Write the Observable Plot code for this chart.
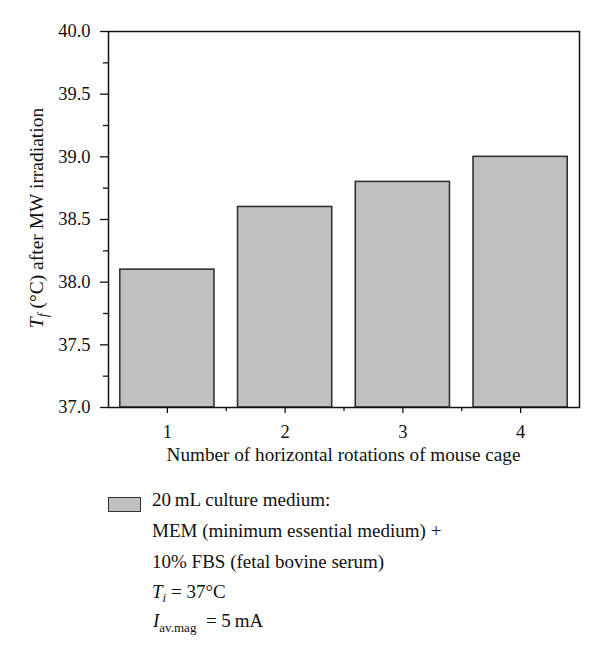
<!DOCTYPE html>
<html><head><meta charset="utf-8">
<script src="https://cdn.jsdelivr.net/npm/d3@7"></script>
<script src="https://cdn.jsdelivr.net/npm/@observablehq/plot@0.6"></script>
<style>
body{margin:0;background:#fff;font-family:"Liberation Serif",serif;}
#wrap{position:relative;width:600px;height:658px;overflow:hidden;}
#wrap svg, #wrap svg text{font-family:"Liberation Serif",serif !important;}
.leg{position:absolute;font-size:19px;line-height:19px;color:#111;white-space:nowrap;}
.sw{position:absolute;left:108px;top:497px;width:31px;height:13px;background:#c0c0c0;border:1.5px solid #333;}
</style></head><body><div id="wrap"></div>
<script>
const rotations = [1, 2, 3, 4];
const finalTemp = [38.1, 38.6, 38.8, 39.0];
const yTicks = [37.0, 37.5, 38.0, 38.5, 39.0, 39.5, 40.0];
const yMinor = [37.25, 37.75, 38.25, 38.75, 39.25, 39.75];
const xMinor = [1.5, 2.5, 3.5];
const baseTemp = 37;
const xLabel = "Number of horizontal rotations of mouse cage";
const legendLines = [
  "20\u2009mL culture medium:",
  "MEM (minimum essential medium) +",
  "10% FBS (fetal bovine serum)"
];

const data = rotations.map((r, i) => ({r, t: finalTemp[i]}));

const chart = Plot.plot({
  width: 600,
  height: 475,
  marginLeft: 108,
  marginRight: 21,
  marginTop: 31,
  marginBottom: 68,
  style: {fontFamily: '"Liberation Serif", serif', fontSize: "18.5px", color: "#111", background: "#fff"},
  x: {domain: [0.5, 4.5]},
  y: {domain: [37, 40]},
  marks: [
    Plot.rectY(data, {x1: d => d.r - 0.4, x2: d => d.r + 0.4, y1: baseTemp, y2: "t", fill: "#c0c0c0", stroke: "#333", strokeWidth: 1.6}),
    Plot.axisY({ticks: yTicks, tickSize: 8, tickPadding: 10, tickFormat: d3.format(".1f"), label: null, stroke: "#111", strokeWidth: 1.3}),
    Plot.axisY({ticks: yMinor, tickSize: 5, text: null, label: null, stroke: "#111", strokeWidth: 1.3}),
    Plot.axisX({ticks: rotations, tickSize: 6, tickPadding: 11, tickFormat: d3.format("d"), label: null, stroke: "#111", strokeWidth: 1.3}),
    Plot.axisX({ticks: xMinor, tickSize: 4, text: null, label: null, stroke: "#111", strokeWidth: 1.3}),
    Plot.frame({stroke: "#111", strokeWidth: 1.5})
  ]
});

const wrap = document.getElementById("wrap");
wrap.appendChild(chart);

const svg = d3.select(chart);
// x axis label
svg.append("text")
  .attr("x", (108 + 579) / 2).attr("y", 461)
  .attr("text-anchor", "middle").attr("font-size", 19.2).attr("fill", "#111")
  .text(xLabel);
// y axis label
const yl = svg.append("text")
  .attr("transform", "translate(43,218) rotate(-90)")
  .attr("text-anchor", "middle").attr("font-size", 19.5).attr("fill", "#111");
yl.append("tspan").attr("font-style", "italic").text("T");
yl.append("tspan").attr("font-style", "italic").attr("font-size", 14).attr("dy", 5).text("f");
yl.append("tspan").attr("dy", -5).text(" (\u00B0C) after MW irradiation");

// legend
const sw = document.createElement("div");
sw.className = "sw";
wrap.appendChild(sw);
const tops = [490, 521, 552];
legendLines.forEach((s, i) => {
  const d = document.createElement("div");
  d.className = "leg";
  d.style.left = "152px";
  d.style.top = tops[i] + "px";
  d.textContent = s;
  wrap.appendChild(d);
});
const l4 = document.createElement("div");
l4.className = "leg"; l4.style.left = "152px"; l4.style.top = "582px";
l4.innerHTML = '<i>T</i><sub style="font-size:13px;vertical-align:-4px"><i>i</i></sub> = 37\u00B0C';
wrap.appendChild(l4);
const l5 = document.createElement("div");
l5.className = "leg"; l5.style.left = "153px"; l5.style.top = "611px";
l5.innerHTML = '<i>I</i><sub style="font-size:13px;vertical-align:-5px">av.mag</sub> &nbsp;= 5\u2009mA';
wrap.appendChild(l5);
</script></body></html>
